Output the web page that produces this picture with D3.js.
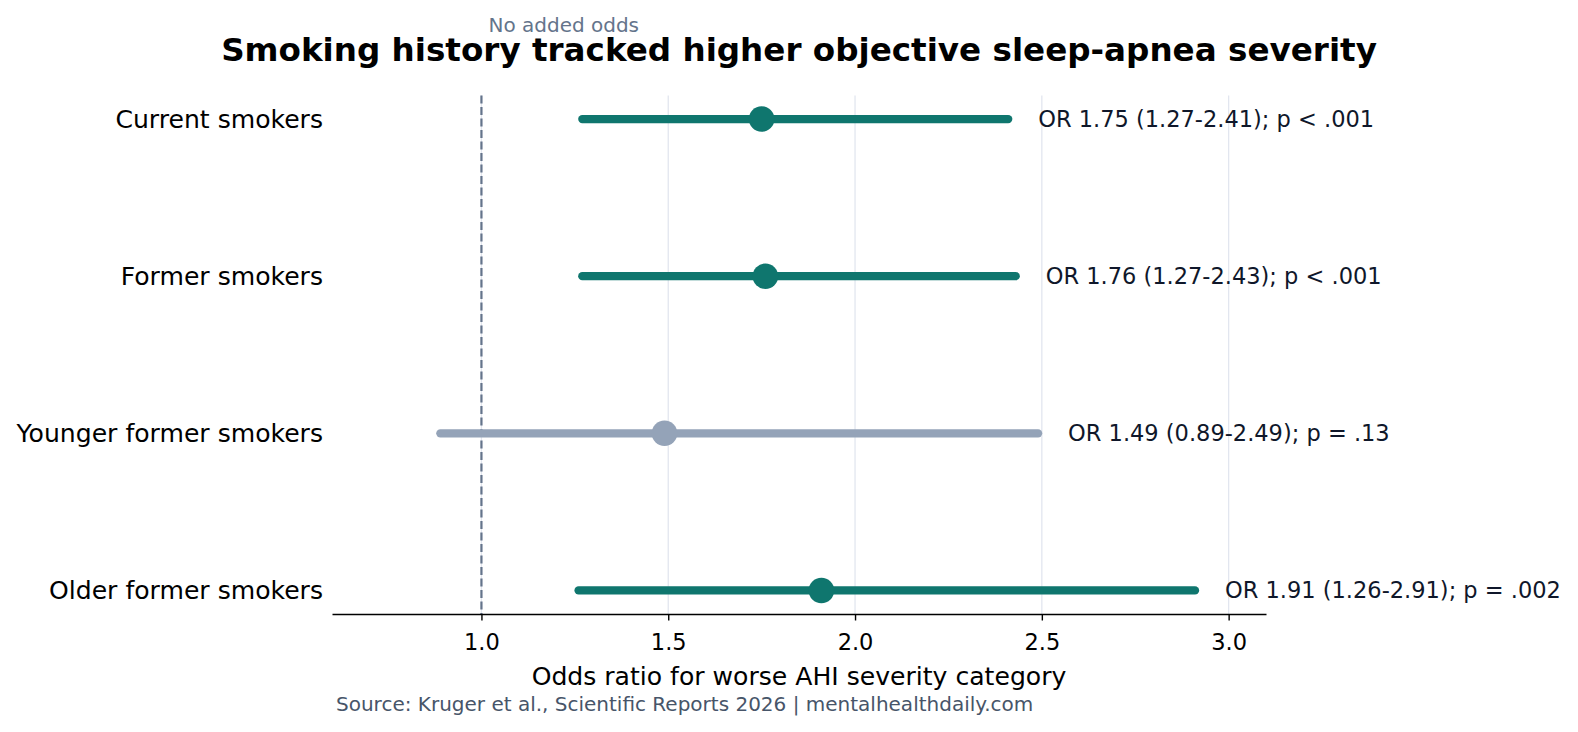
<!DOCTYPE html>
<html>
<head>
<meta charset="utf-8">
<script src="https://cdn.jsdelivr.net/npm/d3@7"></script>
<style>
  body { margin: 0; background: #fff; }
  svg text { font-family: "DejaVu Sans", sans-serif; }
</style>
</head>
<body>
<svg class="forest" width="1578" height="732"></svg>
<script>
// data
var groups = ["Current smokers", "Former smokers", "Younger former smokers", "Older former smokers"];
var oddsRatio = [1.75, 1.76, 1.49, 1.91];
var ciLow = [1.27, 1.27, 0.89, 1.26];
var ciHigh = [2.41, 2.43, 2.49, 2.91];
var pLabels = ["p < .001", "p < .001", "p = .13", "p = .002"];
var xTicks = [1.0, 1.5, 2.0, 2.5, 3.0];

var svg = d3.select('svg.forest');

var padding = {t: 95.5, l: 332};
var chartWidth = 934;
var chartHeight = 614 - padding.t;

var xScale = d3.scaleLinear().domain([0.6, 3.1]).range([0, chartWidth]);
var yScale = d3.scaleLinear().domain([-0.15, 3.15]).range([0, chartHeight]);

var rows = groups.map(function(g, i) {
  return {name: g, or: oddsRatio[i], lo: ciLow[i], hi: ciHigh[i], p: pLabels[i], i: i};
});

var chartG = svg.append('g')
  .attr('transform', 'translate(' + [padding.l, padding.t] + ')');

// light vertical grid
chartG.selectAll('.grid')
  .data(xTicks)
  .enter().append('line')
  .attr('class', 'grid')
  .attr('x1', function(d) { return xScale(d); })
  .attr('x2', function(d) { return xScale(d); })
  .attr('y1', 0).attr('y2', chartHeight)
  .attr('stroke', '#e2e6ef').attr('stroke-width', 1.3);

// reference line at OR = 1
chartG.append('line')
  .attr('x1', xScale(1)).attr('x2', xScale(1))
  .attr('y1', 0).attr('y2', chartHeight)
  .attr('stroke', '#64748b').attr('stroke-width', 2.2)
  .attr('stroke-dasharray', '8,3.5');

svg.append('text')
  .attr('x', padding.l + xScale(1) + 7).attr('y', 32)
  .attr('font-size', 20).attr('fill', '#64748b')
  .text('No added odds');

// x axis
var xAxisG = chartG.append('g')
  .attr('transform', 'translate(' + [0, chartHeight] + ')')
  .call(d3.axisBottom(xScale).tickValues(xTicks).tickSize(6.5).tickSizeOuter(0).tickPadding(14)
    .tickFormat(d3.format('.1f')));
xAxisG.select('.domain').attr('stroke', '#000').attr('stroke-width', 1.4);
xAxisG.selectAll('.tick line').attr('stroke', '#000').attr('stroke-width', 1.4);
xAxisG.selectAll('text').attr('font-size', 22.5).attr('fill', '#000')
  .style('font-family', '"DejaVu Sans", sans-serif');

// row labels
chartG.selectAll('.ylab')
  .data(rows)
  .enter().append('text')
  .attr('class', 'ylab')
  .attr('x', -9)
  .attr('y', function(d) { return yScale(d.i); })
  .attr('dy', '0.35em')
  .attr('text-anchor', 'end')
  .attr('font-size', 25.1)
  .attr('fill', '#000')
  .text(function(d) { return d.name; });

function colorOf(d) { return d.lo > 1 ? '#0f766e' : '#94a3b8'; }

// confidence intervals
chartG.selectAll('.ci')
  .data(rows)
  .enter().append('line')
  .attr('class', 'ci')
  .attr('x1', function(d) { return xScale(d.lo); })
  .attr('x2', function(d) { return xScale(d.hi); })
  .attr('y1', function(d) { return yScale(d.i); })
  .attr('y2', function(d) { return yScale(d.i); })
  .attr('stroke', colorOf)
  .attr('stroke-width', 8.3)
  .attr('stroke-linecap', 'round');

// point estimates
chartG.selectAll('.dot')
  .data(rows)
  .enter().append('circle')
  .attr('class', 'dot')
  .attr('cx', function(d) { return xScale(d.or); })
  .attr('cy', function(d) { return yScale(d.i); })
  .attr('r', 12.8)
  .attr('fill', colorOf);

// value labels
chartG.selectAll('.vlab')
  .data(rows)
  .enter().append('text')
  .attr('class', 'vlab')
  .attr('x', function(d) { return xScale(d.hi) + 30; })
  .attr('y', function(d) { return yScale(d.i); })
  .attr('dy', '0.35em')
  .attr('font-size', 22.5)
  .attr('fill', '#0f172a')
  .text(function(d) {
    return 'OR ' + d.or.toFixed(2) + ' (' + d.lo.toFixed(2) + '-' + d.hi.toFixed(2) + '); ' + d.p;
  });

// title
svg.append('text')
  .attr('x', padding.l + chartWidth / 2).attr('y', 61)
  .attr('text-anchor', 'middle')
  .attr('font-size', 32.6).attr('font-weight', 'bold')
  .attr('fill', '#000')
  .text('Smoking history tracked higher objective sleep-apnea severity');

// axis title
svg.append('text')
  .attr('x', padding.l + chartWidth / 2).attr('y', 685)
  .attr('text-anchor', 'middle')
  .attr('font-size', 25.1).attr('fill', '#000')
  .text('Odds ratio for worse AHI severity category');

// source
svg.append('text')
  .attr('x', 336).attr('y', 710.5)
  .attr('font-size', 20).attr('fill', '#475569')
  .text('Source: Kruger et al., Scientific Reports 2026 | mentalhealthdaily.com');
</script>
</body>
</html>
